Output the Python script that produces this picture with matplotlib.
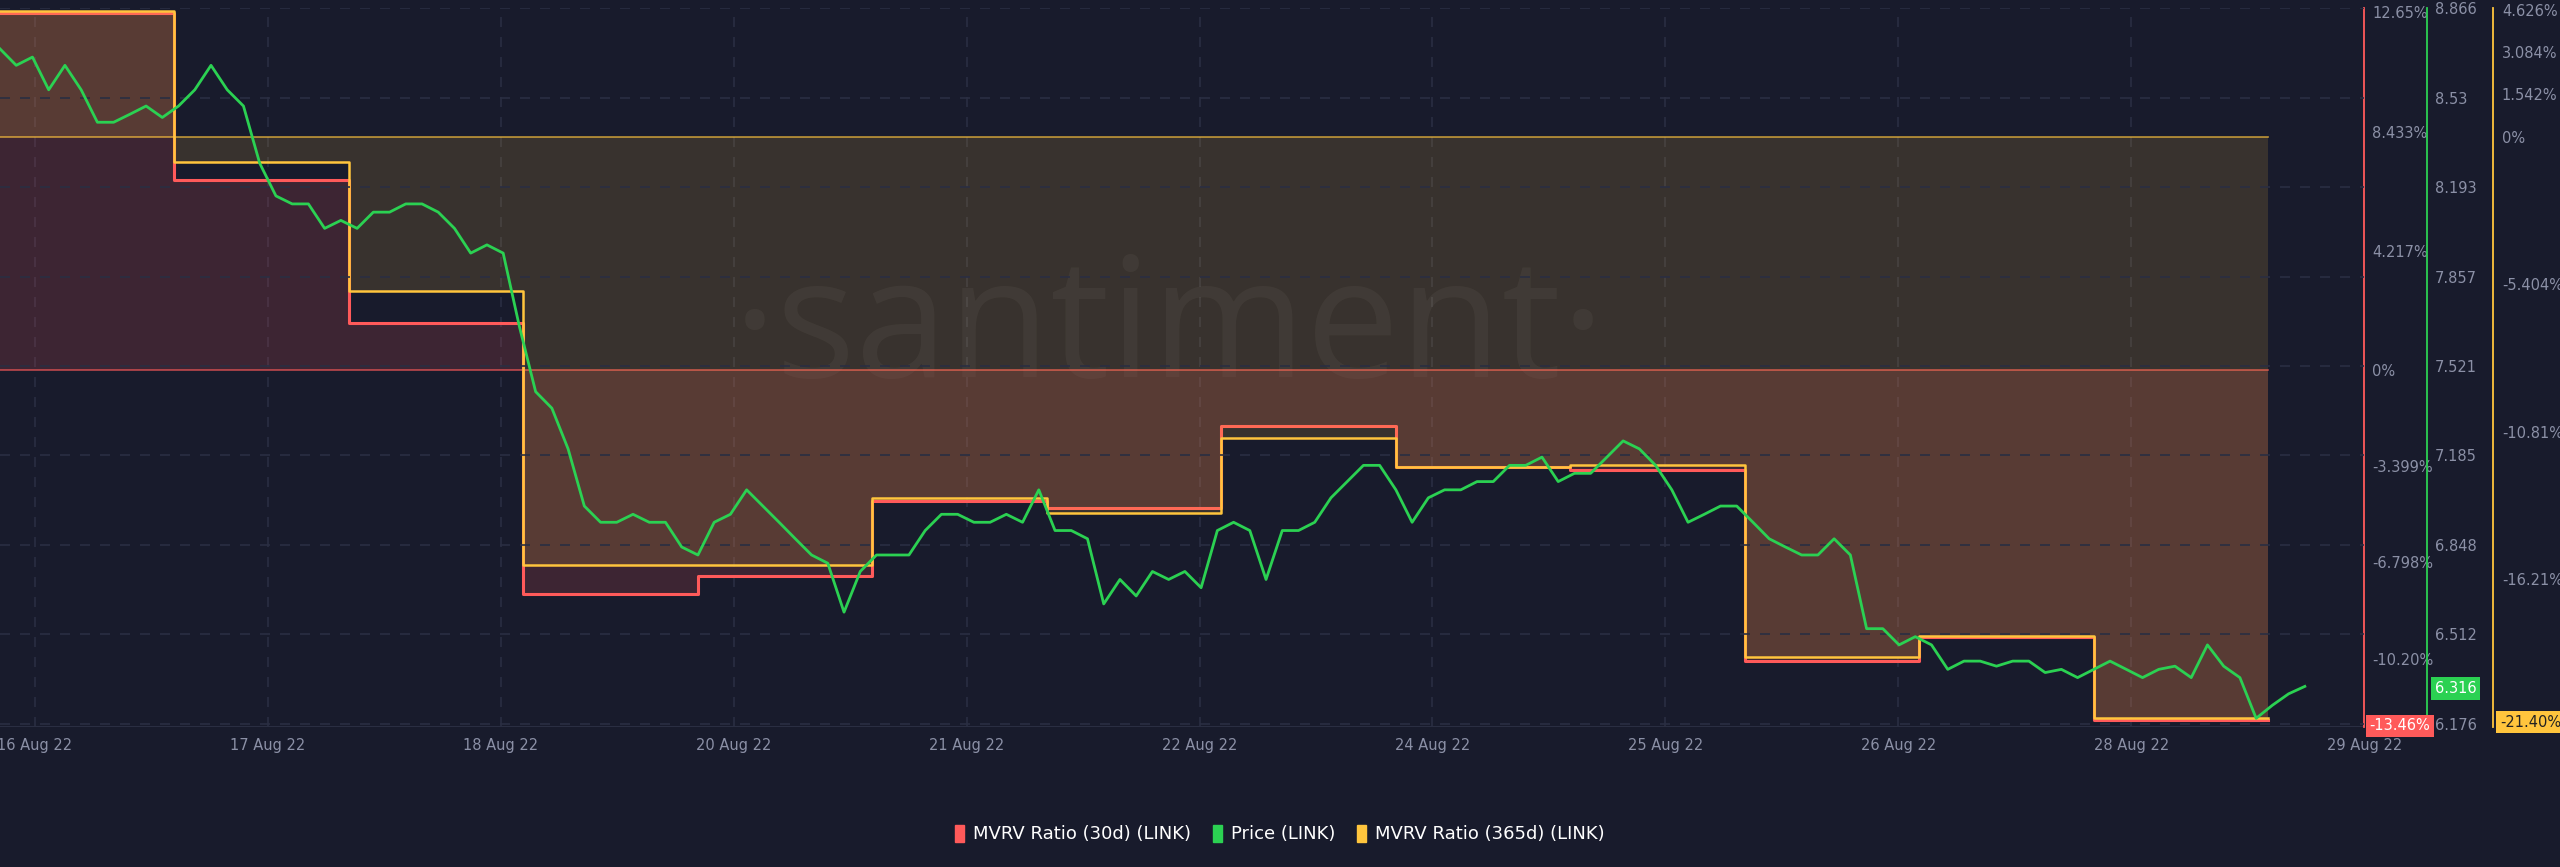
import numpy as np
import matplotlib
matplotlib.use("Agg")
import matplotlib.pyplot as plt
from matplotlib.patches import Patch

# ---------------- data ----------------
day_edges = list(range(14))  # 16 Aug 00:00 .. 29 Aug 00:00 (days)
mvrv30 = [12.63, 6.74, 1.66, -7.93, -7.29, -4.64, -4.87, -1.98, -3.42, -3.54, -10.29, -9.43, -12.37]
mvrv365 = [4.58, -0.92, -5.64, -15.68, -15.68, -13.23, -13.77, -11.02, -12.10, -12.04, -19.07, -18.29, -21.30]

price = [8.713, 8.651, 8.682, 8.559, 8.651, 8.559, 8.437, 8.437, 8.467, 8.498,
         8.455, 8.498, 8.559, 8.651, 8.559, 8.498, 8.283, 8.160, 8.130, 8.130,
         8.038, 8.068, 8.038, 8.099, 8.099, 8.130, 8.130, 8.099, 8.038, 7.945,
         7.976, 7.945, 7.669, 7.424, 7.362, 7.209, 6.994, 6.933, 6.933, 6.963,
         6.933, 6.933, 6.840, 6.810, 6.933, 6.963, 7.055, 6.994, 6.933, 6.871,
         6.810, 6.779, 6.595, 6.748, 6.810, 6.810, 6.810, 6.902, 6.963, 6.963,
         6.933, 6.933, 6.963, 6.933, 7.055, 6.902, 6.902, 6.871, 6.626, 6.718,
         6.656, 6.748, 6.718, 6.748, 6.687, 6.902, 6.933, 6.902, 6.718, 6.902,
         6.902, 6.933, 7.025, 7.086, 7.147, 7.147, 7.055, 6.933, 7.025, 7.055,
         7.055, 7.086, 7.086, 7.147, 7.147, 7.178, 7.086, 7.117, 7.117, 7.178,
         7.239, 7.209, 7.147, 7.055, 6.933, 6.963, 6.994, 6.994, 6.933, 6.871,
         6.840, 6.810, 6.810, 6.871, 6.810, 6.533, 6.533, 6.472, 6.503, 6.472,
         6.380, 6.411, 6.411, 6.392, 6.411, 6.411, 6.368, 6.380, 6.349, 6.380,
         6.411, 6.380, 6.349, 6.380, 6.392, 6.349, 6.472, 6.392, 6.349, 6.196,
         6.245, 6.288, 6.316]
price_end_day = 13.21

xtick_labels = ["16 Aug 22", "17 Aug 22", "18 Aug 22", "20 Aug 22", "21 Aug 22", "22 Aug 22",
                "24 Aug 22", "25 Aug 22", "26 Aug 22", "28 Aug 22", "29 Aug 22"]
red_ticks = [12.65, 8.433, 4.217, 0, -3.399, -6.798, -10.20]
red_tick_labels = ["12.65%", "8.433%", "4.217%", "0%", "-3.399%", "-6.798%", "-10.20%"]
price_ticks = [8.866, 8.53, 8.193, 7.857, 7.521, 7.185, 6.848, 6.512, 6.176]
orange_ticks = [4.626, 3.084, 1.542, 0, -5.404, -10.81, -16.21]
orange_tick_labels = ["4.626%", "3.084%", "1.542%", "0%", "-5.404%", "-10.81%", "-16.21%"]
last_red, last_price, last_orange = "-13.46%", "6.316", "-21.40%"

# ---------------- style ----------------
BG = "#181b2c"
RED = "#ff5a5a"
GREEN = "#2bd152"
ORANGE = "#ffc53d"
GRID = "#2a2e42"
TXT = "#8b90a6"

fig = plt.figure(figsize=(25.6, 8.67), dpi=100, facecolor=BG)
left, right, bottom, top = 0.0, 0.9235, 0.162, 0.9906
ax = fig.add_axes([left, bottom, right - left, top - bottom])
ax.set_facecolor(BG)
axo = ax.twinx()
axp = ax.twinx()
for a in (axo, axp):
    a.patch.set_visible(False)

ax.set_xlim(0, 13.47)
for a in (ax, axo, axp):
    for s in ("top", "left", "bottom"):
        a.spines[s].set_visible(False)

ax.set_ylim(-12.6, 12.8)
axo.set_ylim(-21.6, 4.7)
axp.set_ylim(6.165, 8.866)

# grid
for t in price_ticks:
    axp.axhline(t, color=GRID, lw=1.2, ls=(0, (6, 6)), zorder=0)
xt = [0.2 + i * 1.335 for i in range(len(xtick_labels))]
for x in xt:
    ax.axvline(x, color=GRID, lw=1.2, ls=(0, (6, 6)), zorder=0)

# watermark
ax.text(6.7, 1.3, "·santiment·", ha="center", va="center", fontsize=120,
        color="#ffffff", alpha=0.045, family="Open Sans", zorder=1)

# step series
xs = day_edges
r_vals = mvrv30 + [mvrv30[-1]]
o_vals = mvrv365 + [mvrv365[-1]]
ax.fill_between(xs, r_vals, 0, step="post", color=RED, alpha=0.16, lw=0, zorder=2)
ax.step(xs, r_vals, where="post", color=RED, lw=2.2, zorder=3)
ax.plot([0, 13], [0, 0], color=RED, lw=1.2, alpha=0.7, zorder=3)
axo.fill_between(xs, o_vals, 0, step="post", color=ORANGE, alpha=0.14, lw=0, zorder=2)
axo.step(xs, o_vals, where="post", color=ORANGE, lw=1.8, zorder=3)
axo.plot([0, 13], [0, 0], color=ORANGE, lw=1.2, alpha=0.7, zorder=3)

# price
px = np.linspace(0, price_end_day, len(price))
axp.plot(px, price, color=GREEN, lw=2.0, zorder=5)

# axes / ticks
ax.yaxis.tick_right()
ax.spines["right"].set_visible(True)
ax.spines["right"].set_color(RED)
axp.spines["right"].set_position(("axes", 1.0265))
axp.spines["right"].set_color(GREEN)
axo.spines["right"].set_position(("axes", 1.0547))
axo.spines["right"].set_color(ORANGE)
for a in (ax, axo, axp):
    a.spines["right"].set_linewidth(1.3)
    a.tick_params(axis="y", length=0, pad=6, labelsize=10.5, labelcolor=TXT,
                  left=False, labelleft=False, right=True, labelright=True)
ax.set_yticks(red_ticks, red_tick_labels)
axo.set_yticks(orange_ticks, orange_tick_labels)
axp.set_yticks(price_ticks, [f"{t:g}" for t in price_ticks])

ax.set_xticks(xt, xtick_labels)
ax.tick_params(axis="x", length=0, labelsize=10.5, labelcolor=TXT, pad=8)
ax.axhline(-12.6, color=GRID, lw=1.5)

# last value tags
fig.text(0.9255, 0.163, last_red, color="white", fontsize=10.5, va="center", ha="left",
         bbox=dict(boxstyle="square,pad=0.25", fc=RED, ec="none"))
fig.text(0.951, 0.206, last_price, color="white", fontsize=10.5, va="center", ha="left",
         bbox=dict(boxstyle="square,pad=0.25", fc=GREEN, ec="none"))
fig.text(0.9765, 0.167, last_orange, color="#222", fontsize=10.5, va="center", ha="left",
         bbox=dict(boxstyle="square,pad=0.25", fc=ORANGE, ec="none"))

# legend
handles = [Patch(color=RED, label="MVRV Ratio (30d) (LINK)"),
           Patch(color=GREEN, label="Price (LINK)"),
           Patch(color=ORANGE, label="MVRV Ratio (365d) (LINK)")]
fig.legend(handles=handles, loc="center", bbox_to_anchor=(0.5, 0.038), ncol=3, frameon=False,
           fontsize=13, labelcolor="white", handlelength=0.5, handleheight=1.1,
           handletextpad=0.5, columnspacing=1.2)

fig.savefig("out.png", dpi=100, facecolor=BG)
